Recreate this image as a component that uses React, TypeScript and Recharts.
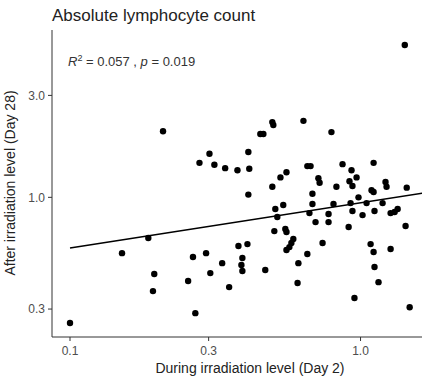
import { ScatterChart, Scatter, XAxis, YAxis } from "recharts";

// values (log-log scatter)
const duringDay2 = [
  1.42, 0.209, 0.497, 0.501, 0.452, 0.463, 0.636, 0.794, 0.302, 0.279,
  0.314, 0.342, 0.377, 0.411, 0.414, 0.411, 0.53, 0.556, 0.497, 0.656,
  0.673, 0.867, 1.109, 0.931, 0.716, 0.723, 0.916, 0.938, 0.969, 0.826,
  1.219, 1.229, 1.091, 1.109, 1.442, 0.683, 0.509, 0.542, 0.517, 0.683,
  0.807, 0.924, 0.984, 1.049, 1.191, 0.667, 0.776, 0.938, 1.016, 1.117,
  1.269, 1.31, 1.342, 0.7, 0.776, 0.91, 1.429, 0.505, 0.551, 0.556,
  0.186, 0.587, 0.578, 0.569, 0.556, 0.74, 0.38, 0.408, 1.083, 1.109,
  1.269, 0.151, 0.265, 0.294, 0.392, 0.389, 0.392, 0.334, 0.304, 0.47,
  0.611, 0.656, 0.195, 0.193, 0.255, 0.353, 0.27, 0.607, 1.117, 1.153,
  0.953, 1.476, 0.1,
];

const afterDay28 = [
  5.16, 2.04, 2.25, 2.18, 1.98, 1.98, 2.28, 2.02, 1.6, 1.45,
  1.42, 1.37, 1.34, 1.63, 1.36, 1.03, 1.24, 1.31, 1.12, 1.4,
  1.4, 1.43, 1.45, 1.34, 1.23, 1.17, 1.19, 1.13, 1.24, 1.12,
  1.18, 1.12, 1.08, 1.06, 1.11, 1.04, 0.882, 0.921, 0.809, 0.931,
  0.931, 0.94, 1.0, 0.94, 0.94, 0.844, 0.835, 0.863, 0.826, 0.863,
  0.844, 0.854, 0.882, 0.766, 0.766, 0.726, 0.734, 0.695, 0.711, 0.688,
  0.645, 0.638, 0.611, 0.585, 0.567, 0.611, 0.592, 0.604, 0.604, 0.555,
  0.573, 0.548, 0.526, 0.548, 0.52, 0.482, 0.452, 0.492, 0.442, 0.457,
  0.492, 0.543, 0.438, 0.364, 0.406, 0.38, 0.287, 0.397, 0.472, 0.401,
  0.338, 0.306, 0.258,
];

// fitted line end points
const fitX = [0.1, 1.74];
const fitY = [0.579, 1.061];

const xTicks = [0.1, 0.3, 1.0];
const yTicks = [0.3, 1.0, 3.0];

const FONT = "'Liberation Sans', Arial, sans-serif";

const points = duringDay2.map((x, i) => ({ x, y: afterDay28[i] }));
const fit = fitX.map((x, i) => ({ x, y: fitY[i] }));

const Dot = (p: any) => <circle cx={p.cx} cy={p.cy} r={3.2} fill="#000" />;
const NoDot = () => <g />;

export default function App() {
  const tick = { fill: "#4d4d4d", fontSize: 12, fontFamily: FONT };
  return (
    <div
      style={{
        position: "absolute",
        left: 0,
        top: 0,
        width: 422,
        height: 383,
        overflow: "hidden",
        background: "#fff",
      }}
    >
      <ScatterChart width={450} height={383} margin={{ top: 30, right: 2, bottom: 0, left: 0 }}>
        <XAxis
          type="number"
          dataKey="x"
          scale="log"
          domain={[0.0867, 2]}
          allowDataOverflow
          ticks={xTicks}
          tickFormatter={(v: number) => v.toFixed(1)}
          height={46}
          tickSize={4}
          tickMargin={5}
          tick={tick}
          axisLine={{ stroke: "#333" }}
          tickLine={{ stroke: "#333" }}
        />
        <YAxis
          type="number"
          dataKey="y"
          scale="log"
          domain={[0.222, 6.07]}
          allowDataOverflow
          ticks={yTicks}
          tickFormatter={(v: number) => v.toFixed(1)}
          width={52}
          tickSize={4}
          tickMargin={3}
          tick={tick}
          axisLine={{ stroke: "#333" }}
          tickLine={{ stroke: "#333" }}
        />
        <Scatter data={points} shape={Dot} isAnimationActive={false} />
        <Scatter
          data={fit}
          shape={NoDot}
          line={{ stroke: "#000", strokeWidth: 1.5 }}
          isAnimationActive={false}
        />
      </ScatterChart>
      <svg
        width={422}
        height={383}
        style={{ position: "absolute", left: 0, top: 0, pointerEvents: "none" }}
        fontFamily={FONT}
      >
        <text x={52} y={21} fontSize={17} fill="#222">
          Absolute lymphocyte count
        </text>
        <text x={68} y={66} fontSize={13} fill="#333">
          <tspan fontStyle="italic">R</tspan>
          <tspan fontSize={9} dy={-5}>2</tspan>
          <tspan dy={5}> = 0.057 , </tspan>
          <tspan fontStyle="italic">p</tspan>
          <tspan> = 0.019</tspan>
        </text>
        <text x={250} y={373} fontSize={14} fill="#222" textAnchor="middle">
          During irradiation level (Day 2)
        </text>
        <text
          transform="translate(15,183) rotate(-90)"
          fontSize={14}
          fill="#222"
          textAnchor="middle"
        >
          After irradiation level (Day 28)
        </text>
      </svg>
    </div>
  );
}
